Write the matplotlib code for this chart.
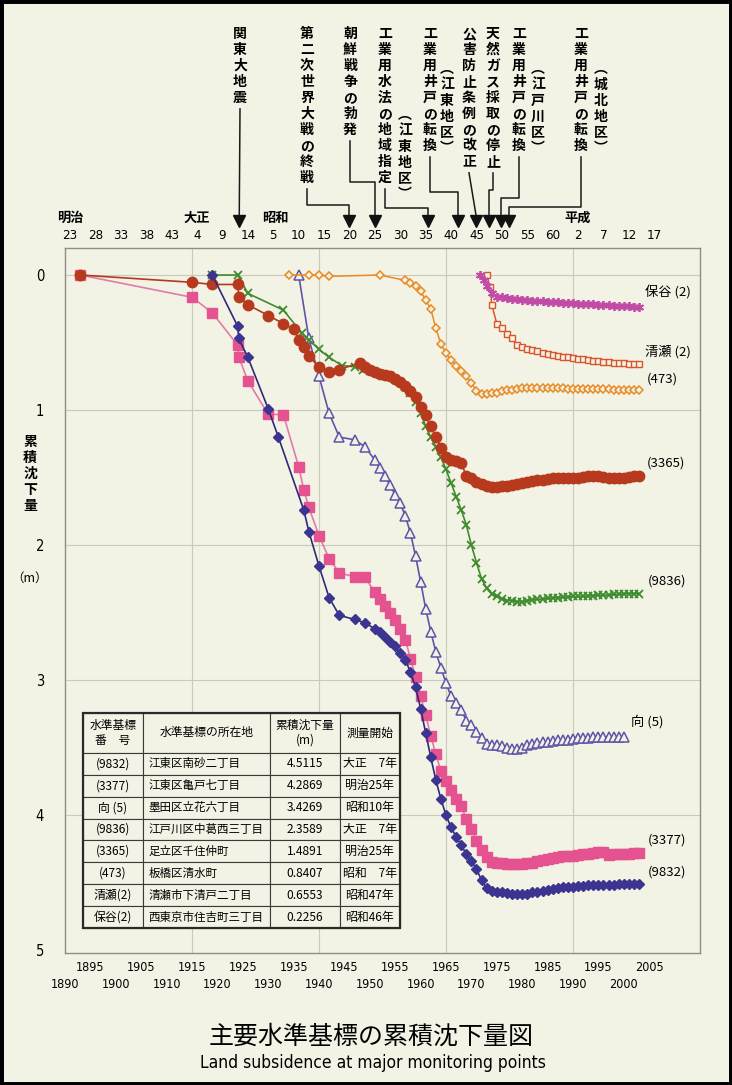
import matplotlib
matplotlib.use('Agg')
import matplotlib.pyplot as plt
import matplotlib.transforms as mtransforms
from matplotlib.patches import Rectangle

plt.rcParams['font.family'] = ['Noto Sans CJK JP', 'DejaVu Sans']
NUM_FONT = ['Liberation Sans Narrow', 'DejaVu Sans']
BG = '#F3F3E5'

# ---------------- data (metres of subsidence) ----------------
yrs_9832 = [1919, 1924, 1924.2, 1926, 1930, 1932, 1937, 1938, 1940, 1942, 1944, 1947, 1949] + list(range(1951, 2004))
val_9832 = [0, 0.38, 0.47, 0.61, 0.99, 1.20, 1.74, 1.90, 2.155, 2.39, 2.52, 2.55, 2.575,
            2.62, 2.64, 2.68, 2.72, 2.75, 2.80, 2.85, 2.94, 3.05, 3.21,
            3.39, 3.57, 3.74, 3.88, 4.00, 4.09, 4.16, 4.22, 4.29, 4.34,
            4.40, 4.48, 4.54, 4.56, 4.565, 4.57, 4.575, 4.58, 4.585, 4.585,
            4.58, 4.57, 4.565, 4.56, 4.55, 4.545, 4.54, 4.535, 4.53, 4.53,
            4.525, 4.525, 4.52, 4.52, 4.52, 4.515, 4.515, 4.515, 4.51, 4.51,
            4.51, 4.51, 4.51]

yrs_3377 = [1893, 1915, 1919, 1924, 1924.2, 1926, 1930, 1933, 1936, 1937, 1938, 1940, 1942, 1944, 1947, 1949] + list(range(1951, 2004))
val_3377 = [0, 0.165, 0.28, 0.52, 0.605, 0.785, 1.03, 1.035, 1.42, 1.59, 1.72, 1.93, 2.10, 2.205, 2.235, 2.235,
            2.35, 2.40, 2.45, 2.50, 2.555, 2.62, 2.70, 2.84, 2.975, 3.12,
            3.26, 3.41, 3.55, 3.67, 3.75, 3.81, 3.88, 3.93, 4.03, 4.10,
            4.19, 4.26, 4.31, 4.345, 4.35, 4.355, 4.36, 4.36, 4.36, 4.36,
            4.355, 4.35, 4.34, 4.33, 4.325, 4.32, 4.31, 4.305, 4.30, 4.30,
            4.295, 4.29, 4.285, 4.28, 4.275, 4.27, 4.295, 4.29, 4.29, 4.285,
            4.285, 4.28, 4.28]

yrs_muko5 = [1936, 1938, 1940, 1942, 1944, 1947, 1949] + list(range(1951, 2001))
val_muko5 = [0, 0.47, 0.75, 1.025, 1.20, 1.22, 1.27,
             1.37, 1.43, 1.49, 1.555, 1.63, 1.69, 1.785, 1.91, 2.08, 2.27,
             2.47, 2.64, 2.79, 2.91, 3.02, 3.12, 3.17, 3.22, 3.30, 3.33,
             3.38, 3.43, 3.47, 3.48, 3.48, 3.49, 3.50, 3.51, 3.51, 3.50,
             3.48, 3.47, 3.465, 3.46, 3.455, 3.45, 3.445, 3.44, 3.44, 3.435,
             3.43, 3.43, 3.425, 3.42, 3.42, 3.42, 3.42, 3.42, 3.42, 3.42]

yrs_9836 = [1919, 1924, 1926, 1933, 1936.6, 1938, 1940, 1942, 1944.5, 1947, 1948.7] + list(range(1950, 2004))
val_9836 = [0, 0, 0.136, 0.26, 0.43, 0.48, 0.55, 0.61, 0.67, 0.68, 0.70,
            0.71, 0.72, 0.73, 0.74, 0.75, 0.77, 0.79, 0.83, 0.87, 0.94,
            1.02, 1.12, 1.20, 1.27, 1.35, 1.44, 1.54, 1.64, 1.74, 1.85,
            2.00, 2.13, 2.25, 2.32, 2.36, 2.38, 2.40, 2.41, 2.41, 2.42,
            2.42, 2.41, 2.405, 2.40, 2.40, 2.395, 2.39, 2.39, 2.385, 2.385,
            2.38, 2.38, 2.38, 2.375, 2.375, 2.37, 2.37, 2.37, 2.365, 2.365,
            2.36, 2.36, 2.36, 2.36]

yrs_3365 = [1893, 1915, 1919, 1924, 1924.2, 1926, 1930, 1933, 1935, 1936, 1937, 1938, 1940, 1942, 1944, 1948, 1949] + list(range(1950, 2004))
val_3365 = [0, 0.054, 0.07, 0.07, 0.16, 0.22, 0.30, 0.36, 0.40, 0.48, 0.53, 0.60, 0.68, 0.72, 0.70, 0.65, 0.68,
            0.70, 0.72, 0.73, 0.74, 0.75, 0.77, 0.79, 0.82, 0.86, 0.90,
            0.975, 1.04, 1.12, 1.20, 1.28, 1.35, 1.37, 1.38, 1.39, 1.49,
            1.505, 1.53, 1.55, 1.565, 1.57, 1.57, 1.565, 1.56, 1.555, 1.55,
            1.54, 1.535, 1.525, 1.52, 1.515, 1.51, 1.505, 1.505, 1.50, 1.50,
            1.50, 1.50, 1.495, 1.49, 1.49, 1.49, 1.495, 1.50, 1.505, 1.50,
            1.50, 1.495, 1.49, 1.49]

yrs_473 = [1934, 1938, 1940, 1942, 1952] + list(range(1957, 2004))
val_473 = [0, 0, 0, 0.01, 0,
           0.04, 0.06, 0.08, 0.12, 0.185, 0.25, 0.395, 0.51, 0.58, 0.63,
           0.67, 0.71, 0.75, 0.80, 0.86, 0.88, 0.88, 0.875, 0.87, 0.86,
           0.855, 0.85, 0.845, 0.84, 0.84, 0.835, 0.835, 0.84, 0.84, 0.84,
           0.84, 0.84, 0.845, 0.845, 0.845, 0.845, 0.845, 0.845, 0.845, 0.845,
           0.845, 0.85, 0.85, 0.85, 0.85, 0.85, 0.85]

yrs_kiyose = [1973, 1973.7] + list(range(1974, 2004))
val_kiyose = [0, 0.09,
              0.22, 0.36, 0.39, 0.44, 0.47, 0.52, 0.535, 0.545, 0.555, 0.565,
              0.575, 0.585, 0.59, 0.60, 0.605, 0.61, 0.615, 0.62, 0.625, 0.63,
              0.635, 0.64, 0.645, 0.645, 0.65, 0.65, 0.655, 0.66, 0.66, 0.66]

yrs_hoya = [1971.7, 1972.5] + list(range(1973, 2004))
val_hoya = [0, 0.04,
            0.085, 0.135, 0.16, 0.165, 0.17, 0.175, 0.18, 0.183, 0.186, 0.19,
            0.192, 0.195, 0.197, 0.20, 0.202, 0.205, 0.207, 0.21, 0.212, 0.214,
            0.216, 0.218, 0.22, 0.222, 0.224, 0.226, 0.228, 0.23, 0.232, 0.234, 0.235]

# series labels shown at the right end of the lines
series_names = ['保谷 (2)', '清瀬 (2)', '(473)', '(3365)', '(9836)', '向 (5)', '(3377)', '(9832)']

# axes ticks
y_ticks = [0, 1, 2, 3, 4, 5]
grid_years = [1915, 1940, 1965, 1990]
grid_m = [0, 1, 2, 3, 4]
bottom_lo = [1890, 1900, 1910, 1920, 1930, 1940, 1950, 1960, 1970, 1980, 1990, 2000]
bottom_hi = [1895, 1905, 1915, 1925, 1935, 1945, 1955, 1965, 1975, 1985, 1995, 2005]
top_years = list(range(1890, 2006, 5))
top_nums = ['23', '28', '33', '38', '43', '4', '9', '14', '5', '10', '15', '20', '25',
            '30', '35', '40', '45', '50', '55', '60', '2', '7', '12', '17']
era_names = ['明治', '大正', '昭和', '平成']
era_years = [1890, 1915, 1930.5, 1990]

# events (year on the era axis)
event_text = ['関東大地震', '第二次世界大戦の終戦', '朝鮮戦争の勃発', '工業用水法の地域指定',
              '工業用井戸の転換', '公害防止条例の改正', '天然ガス採取の停止',
              '工業用井戸の転換', '工業用井戸の転換']
event_note = ['', '', '', '江東地区', '江東地区', '', '', '江戸川区', '城北地区']
event_year = [1923.3, 1945, 1950, 1960.5, 1966.4, 1970, 1972.5, 1974.8, 1976.4]

# table
tbl_head = ['水準基標\n番　号', '水準基標の所在地', '累積沈下量\n(m)', '測量開始']
tbl_id = ['(9832)', '(3377)', '向 (5)', '(9836)', '(3365)', '(473)', '清瀬(2)', '保谷(2)']
tbl_place = ['江東区南砂二丁目', '江東区亀戸七丁目', '墨田区立花六丁目', '江戸川区中葛西三丁目',
             '足立区千住仲町', '板橋区清水町', '清瀬市下清戸二丁目', '西東京市住吉町三丁目']
tbl_total = ['4.5115', '4.2869', '3.4269', '2.3589', '1.4891', '0.8407', '0.6553', '0.2256']
tbl_start = ['大正　7年', '明治25年', '昭和10年', '大正　7年', '明治25年', '昭和　7年', '昭和47年', '昭和46年']

# ---------------- figure ----------------
W, H = 732, 1085
fig = plt.figure(figsize=(W / 100, H / 100), dpi=100)
fig.patch.set_facecolor(BG)
ax = fig.add_axes([65 / W, 1 - 953 / H, 635 / W, 705 / H])
ax.set_facecolor(BG)
ax.set_xlim(1890, 2015)
ax.set_ylim(5.02, -0.2)
for s in ax.spines.values():
    s.set_color('#8E8E84')
    s.set_linewidth(1.0)
for g in grid_years:
    ax.axvline(g, color='#C9C9BC', lw=0.8, zorder=0)
for g in grid_m:
    ax.axhline(g, color='#C9C9BC', lw=0.8, zorder=0)

ax.set_yticks(y_ticks, labels=[str(v) for v in y_ticks])
ax.tick_params(axis='y', length=0, pad=15, labelsize=10.5)
ax.set_xticks(bottom_lo, labels=[str(v) for v in bottom_lo])
ax.set_xticks(bottom_hi, labels=[str(v) for v in bottom_hi], minor=True)
ax.tick_params(axis='x', which='major', length=0, pad=18, labelsize=9)
ax.tick_params(axis='x', which='minor', length=0, pad=6, labelsize=9)
for lbl in ax.get_xticklabels(which='both') + ax.get_yticklabels():
    lbl.set_family(NUM_FONT)
    lbl.set_fontstretch('condensed')

# series
ax.plot(yrs_3377, val_3377, color='#E27BA8', lw=1.2, marker='s', ms=6.5,
        mfc='#E4528F', mec='#E4528F', zorder=3)
ax.plot(yrs_9832, val_9832, color='#2E2A78', lw=1.2, marker='D', ms=5.5,
        mfc='#3B3591', mec='#3B3591', zorder=4)
ax.plot(yrs_muko5, val_muko5, color='#5E54A8', lw=1.2, marker='^', ms=6.5,
        mfc=BG, mec='#5E54A8', mew=1.1, zorder=3)
ax.plot(yrs_9836, val_9836, color='#3E8B2E', lw=1.2, marker='x', ms=6,
        mew=1.3, zorder=3)
ax.plot(yrs_3365, val_3365, color='#B23A1E', lw=1.2, marker='o', ms=7.5,
        mfc='#B83A1E', mec='#B83A1E', zorder=3)
ax.plot(yrs_473, val_473, color='#E98A24', lw=1.1, marker='D', ms=4.5,
        mfc=BG, mec='#E98A24', mew=1.1, zorder=3)
ax.plot(yrs_kiyose, val_kiyose, color='#D8552E', lw=1.1, marker='s', ms=4,
        mfc=BG, mec='#D8552E', mew=1.0, zorder=3)
ax.plot(yrs_hoya, val_hoya, color='#C24BA8', lw=1.6, marker=(6, 2, 0), ms=6.5,
        mew=1.3, mec='#C24BA8', zorder=3)

# labels at the line ends
lbl_x = [2004.2, 2004.2, 2004.6, 2004.6, 2004.8, 2001.5, 2004.8, 2004.8]
lbl_y = [0.133, 0.568, 0.77, 1.39, 2.265, 3.31, 4.185, 4.42]
for name, lx, ly in zip(series_names, lbl_x, lbl_y):
    ax.text(lx, ly, name, fontsize=9.5, ha='left', va='center', zorder=6)

# table
tbl_rows = [list(r) for r in zip(tbl_id, tbl_place, tbl_total, tbl_start)]
tbl = ax.table(cellText=tbl_rows, colLabels=tbl_head,
               colWidths=[60, 127, 70, 60], cellLoc='center',
               bbox=[0.0283, 0.0355, 0.499, 0.305], zorder=5)
tbl.auto_set_font_size(False)
for (r, c), cell in tbl.get_celld().items():
    cell.set_facecolor(BG)
    cell.set_edgecolor('#3A3A3A')
    cell.set_linewidth(0.8)
    cell.get_text().set_fontsize(8.5 if r == 0 else 8.6)
    if r == 0:
        cell.set_height(cell.get_height() * 1.83)
    if c == 1 and r > 0:
        cell.get_text().set_ha('left')
        cell.get_text().set_fontsize(8.3)
        cell.PAD = 0.045
ax.add_patch(Rectangle((0.0283, 0.0355), 0.499, 0.305, transform=ax.transAxes,
                       fill=False, edgecolor='#2A2A2A', lw=1.6, zorder=6))

# top era axis (shifted one year against the western scale)
top = ax.twiny()
top.set_xlim(1889, 2014)
top.set_xticks(top_years, labels=top_nums)
top.tick_params(axis='x', length=0, pad=4, labelsize=9.5)
for lbl in top.get_xticklabels():
    lbl.set_family(NUM_FONT)
    lbl.set_fontstretch('condensed')
for s in top.spines.values():
    s.set_visible(False)
blend = mtransforms.blended_transform_factory(top.transData, top.transAxes)
for name, yr in zip(era_names, era_years):
    top.text(yr, 1.043, name, transform=blend, ha='center', va='center',
             fontsize=9.5, fontweight='bold')

# event annotations drawn in pixel space
ov = fig.add_axes([0, 0, 1, 1], zorder=5)
ov.set_xlim(0, W)
ov.set_ylim(H, 0)
ov.axis('off')
ov.patch.set_alpha(0)

col_x = [240, 307, 350, 385, 430, 469, 493, 519, 581]
note_x = [0, 0, 0, 405, 447, 0, 0, 538, 601]
note_top = [0, 0, 0, 108, 62, 0, 0, 62, 62]
jog_y = [0, 205, 182, 208, 192, 0, 190, 198, 207]
text_top = 27
head_top = 216

fig.canvas.draw()
for i, txt in enumerate(event_text):
    t = ov.text(col_x[i], text_top, '\n'.join(txt), ha='center', va='top',
                fontsize=10, linespacing=1.18, fontweight='bold')
    if event_note[i]:
        ov.text(note_x[i], note_top[i], '\n'.join('︵' + event_note[i] + '︶'),
                ha='center', va='top', fontsize=10, linespacing=1.18, fontweight='bold')
    bb = t.get_window_extent()
    y0 = H - bb.y0 + 4
    ax_x = top.transData.transform((event_year[i], 0))[0]
    if jog_y[i]:
        xs = [col_x[i], col_x[i], ax_x, ax_x]
        ys = [y0, jog_y[i], jog_y[i], head_top + 2]
    else:
        xs = [col_x[i], ax_x]
        ys = [y0, head_top + 2]
    ov.plot(xs, ys, color='#1A1A1A', lw=1.1)
    ov.plot([ax_x], [head_top + 5], marker='v', ms=8.5, color='#111111')

# y axis title
fig.text(30 / W, 1 - 474 / H, '\n'.join('累積沈下量'), ha='center', va='center',
         fontsize=10, linespacing=1.2, fontweight='bold')
fig.text(30 / W, 1 - 578 / H, '（m）', ha='center', va='center', fontsize=9)

# titles
fig.text(0.507, 1 - 1037 / H, '主要水準基標の累積沈下量図', ha='center', va='center', fontsize=18)
fig.text(0.509, 1 - 1063 / H, 'Land subsidence at major monitoring points', ha='center',
         va='center', fontsize=12.5, family=NUM_FONT, fontstretch='condensed')

# scanned page border
fig.add_artist(Rectangle((0, 0), 1, 1, transform=fig.transFigure, fill=False,
                         edgecolor='black', lw=5))

fig.savefig('out.png', dpi=100, facecolor=BG)
